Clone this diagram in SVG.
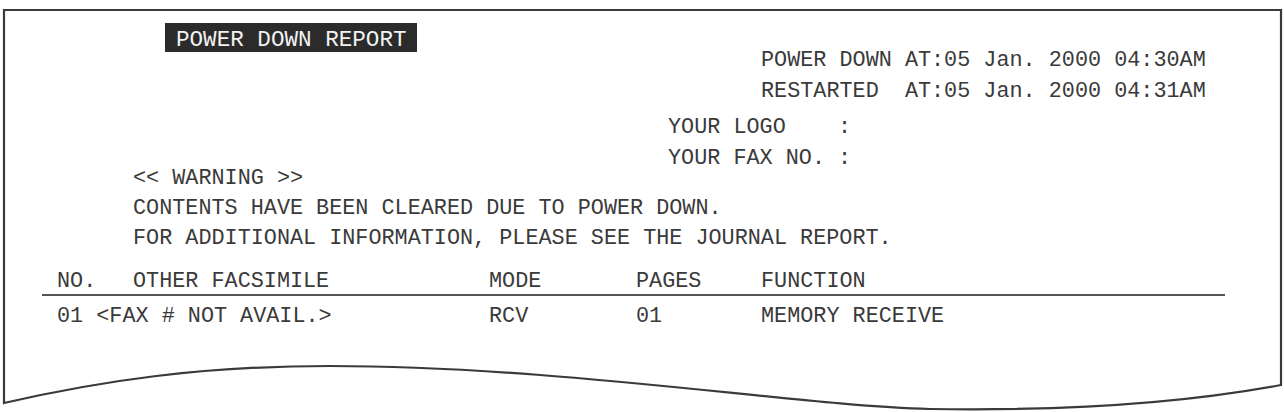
<svg xmlns="http://www.w3.org/2000/svg" width="1284" height="412" viewBox="0 0 1284 412">
<style>
.t{font-family:"Liberation Mono","DejaVu Sans Mono",monospace;font-size:21.8px;fill:#3a3a3a;white-space:pre}
.paper{fill:#fff;stroke:#3a3a3a;stroke-width:2.2;stroke-linejoin:miter}
</style>
<rect width="1284" height="412" fill="#fff"/>
<g id="paper">
<path class="paper" d="M4,10 H1281 V385 C1180,404 1060,411 930,409 C800,406 560,366 330,366 C200,366 100,381 4,403 Z"/>
</g>
<g id="title">
<rect x="165" y="23" width="252" height="29" fill="#2b2b2b"/>
<text class="t" x="176" y="46" style="fill:#f2f2f2;font-size:22.6px">POWER DOWN REPORT</text>
</g>
<g id="header-info">
<text class="t" x="761" y="66">POWER DOWN AT:05 Jan. 2000 04:30AM</text>
<text class="t" x="761" y="97">RESTARTED  AT:05 Jan. 2000 04:31AM</text>
<text class="t" x="668" y="133">YOUR LOGO    :</text>
<text class="t" x="668" y="164">YOUR FAX NO. :</text>
</g>
<g id="warning">
<text class="t" x="133" y="184">&lt;&lt; WARNING &gt;&gt;</text>
<text class="t" x="133" y="214">CONTENTS HAVE BEEN CLEARED DUE TO POWER DOWN.</text>
<text class="t" x="133" y="244">FOR ADDITIONAL INFORMATION, PLEASE SEE THE JOURNAL REPORT.</text>
</g>
<g id="table">
<text class="t" x="57" y="287">NO.</text>
<text class="t" x="133" y="287">OTHER FACSIMILE</text>
<text class="t" x="489" y="287">MODE</text>
<text class="t" x="636" y="287">PAGES</text>
<text class="t" x="761" y="287">FUNCTION</text>
<line x1="42" y1="295" x2="1225" y2="295" stroke="#555" stroke-width="2"/>
<text class="t" x="57" y="322">01 &lt;FAX # NOT AVAIL.&gt;</text>
<text class="t" x="489" y="322">RCV</text>
<text class="t" x="636" y="322">01</text>
<text class="t" x="761" y="322">MEMORY RECEIVE</text>
</g>
</svg>
